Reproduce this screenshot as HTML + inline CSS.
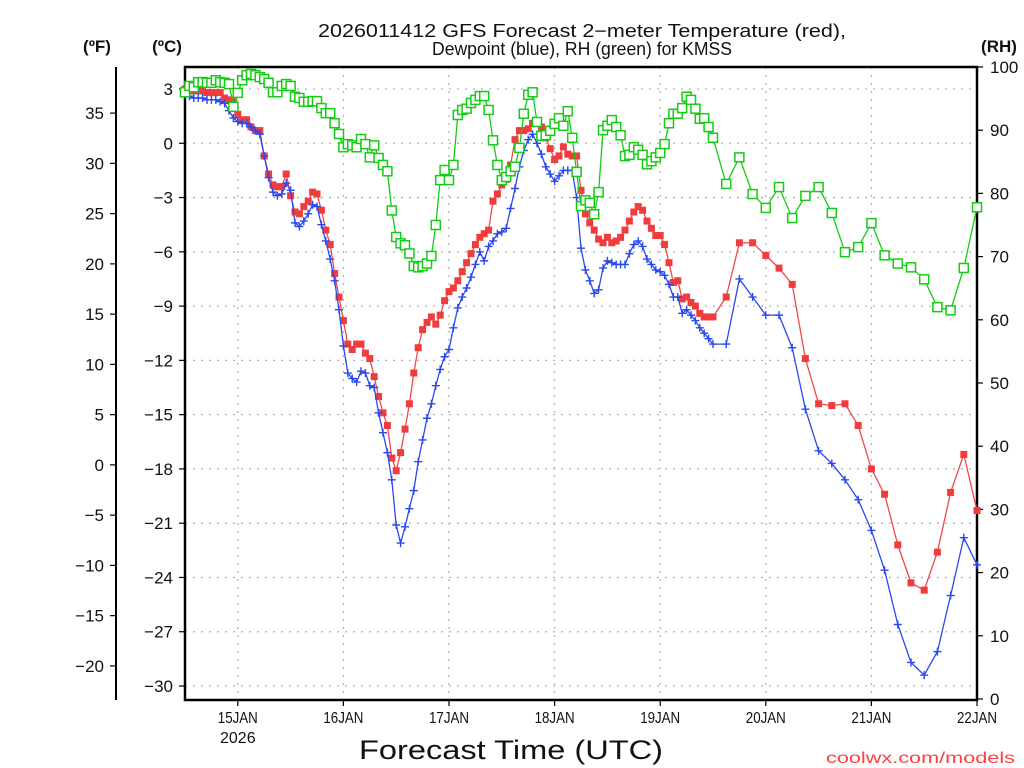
<!DOCTYPE html>
<html><head><meta charset="utf-8">
<style>
html,body{margin:0;padding:0;background:#fff;}
svg{display:block;}
text{font-family:"Liberation Sans",sans-serif;fill:#111;}
</style></head>
<body>
<svg id="chart" width="1024" height="768" viewBox="0 0 1024 768" xmlns="http://www.w3.org/2000/svg">
<rect x="0" y="0" width="1024" height="768" fill="#fff"/>
<text x="582" y="37" font-size="18" text-anchor="middle" textLength="528" lengthAdjust="spacingAndGlyphs">2026011412 GFS Forecast 2−meter Temperature (red),</text>
<text x="582" y="55" font-size="18" text-anchor="middle" textLength="300" lengthAdjust="spacingAndGlyphs">Dewpoint (blue), RH (green) for KMSS</text>
<text x="97" y="52" font-size="17" font-weight="bold" text-anchor="middle">(ºF)</text>
<text x="167" y="52" font-size="17" font-weight="bold" text-anchor="middle">(ºC)</text>
<text x="999" y="52" font-size="17" font-weight="bold" text-anchor="middle">(RH)</text>
<text x="511" y="759" font-size="27" text-anchor="middle" textLength="304" lengthAdjust="spacingAndGlyphs">Forecast Time (UTC)</text>
<text x="1015" y="763" font-size="16" text-anchor="end" fill="#ff4040" style="fill:#ff4040" textLength="189" lengthAdjust="spacingAndGlyphs">coolwx.com/models</text>
<g id="grid"></g>
<g id="axes"></g>
<g id="series"></g>
</svg>
<script>
const hours = [];
for (let h = 0; h <= 120; h++) hours.push(h);
for (let h = 123; h <= 180; h += 3) hours.push(h);

const tempC = [3.0,2.9,2.9,2.9,2.9,2.8,2.8,2.8,2.8,2.5,2.4,2.3,1.6,1.3,1.3,0.9,0.7,0.7,-0.7,-1.7,-2.3,-2.4,-2.4,-1.7,-2.9,-3.8,-3.9,-3.5,-3.2,-2.7,-2.8,-3.7,-4.8,-5.6,-7.2,-8.5,-9.8,-11.1,-11.4,-11.1,-11.1,-11.6,-11.9,-12.9,-14.0,-14.9,-15.6,-17.4,-18.1,-17.1,-15.8,-14.4,-12.7,-11.3,-10.3,-9.9,-9.6,-10.0,-9.5,-8.7,-8.2,-8.0,-7.6,-7.1,-6.6,-6.1,-5.6,-5.2,-5.0,-4.8,-3.2,-2.8,-2.3,-2.0,-1.2,0.2,0.7,0.7,0.8,1.1,1.2,0.9,0.3,-0.3,-0.9,-0.7,-0.2,-0.6,-0.7,-0.7,-2.6,-3.9,-4.4,-4.8,-5.3,-5.5,-5.2,-5.5,-5.4,-5.2,-4.8,-4.3,-3.8,-3.5,-3.7,-4.3,-4.7,-5.1,-5.1,-5.6,-6.6,-7.7,-7.6,-8.6,-8.5,-8.8,-9.0,-9.4,-9.6,-9.6,-9.6,
-8.5,-5.5,-5.5,-6.2,-6.9,-7.8,-11.9,-14.4,-14.5,-14.4,-15.6,-18.0,-19.4,-22.2,-24.3,-24.7,-22.6,-19.3,-17.2,-20.3];

const dewC = [2.7,2.6,2.5,2.5,2.5,2.4,2.4,2.4,2.3,2.2,1.8,1.4,1.2,1.1,1.1,0.9,0.7,0.5,-0.7,-1.9,-2.7,-2.9,-2.8,-2.2,-2.6,-4.4,-4.6,-4.3,-3.9,-3.4,-3.5,-4.5,-5.4,-6.4,-7.6,-9.2,-11.2,-12.7,-13.0,-13.2,-12.6,-12.7,-13.4,-13.5,-14.9,-16.0,-17.1,-18.6,-21.1,-22.1,-21.2,-20.2,-19.2,-17.6,-16.4,-15.2,-14.4,-13.4,-12.5,-11.8,-11.4,-10.2,-9.1,-8.5,-8.0,-7.4,-6.7,-6.0,-6.5,-5.7,-5.4,-5.0,-4.9,-4.7,-3.6,-2.5,-1.3,-0.4,0.2,0.5,0.0,-0.6,-1.3,-1.7,-2.1,-1.8,-1.5,-1.5,-1.5,-3.0,-5.8,-7.0,-7.6,-8.3,-8.1,-6.9,-6.5,-6.6,-6.7,-6.7,-6.7,-6.1,-5.6,-5.4,-5.7,-6.4,-6.7,-7.0,-7.1,-7.3,-7.8,-8.5,-8.5,-9.4,-9.2,-9.5,-9.8,-10.2,-10.5,-10.8,-11.1,
-11.1,-7.5,-8.5,-9.5,-9.5,-11.3,-14.7,-17.0,-17.7,-18.6,-19.7,-21.4,-23.6,-26.6,-28.7,-29.4,-28.1,-25.0,-21.8,-23.3];

const rhPct = [96.0,97.0,96.8,97.6,97.6,97.5,97.5,97.9,97.6,97.5,97.3,93.7,95.9,97.9,98.7,98.9,98.7,98.4,98.1,97.5,96.0,96.0,97.0,97.3,97.0,95.3,95.1,94.5,94.5,94.6,94.6,93.5,92.7,92.7,91.1,89.4,87.3,87.8,87.6,87.3,88.6,87.8,85.7,87.6,85.6,84.5,83.5,77.3,73.1,72.1,71.8,70.5,68.5,68.3,68.5,68.9,70.1,75.0,82.1,83.7,82.1,84.5,92.4,93.2,93.4,94.3,94.8,95.4,95.4,93.2,88.4,84.5,82.1,82.6,83.5,84.2,87.2,92.6,95.6,96.0,91.3,89.1,89.2,89.9,91.0,91.9,90.7,93.0,88.8,83.4,78.0,78.9,78.5,76.7,80.2,90.0,90.7,91.6,90.5,89.2,85.9,86.1,87.3,86.9,86.1,84.6,85.1,85.7,86.4,87.8,91.1,92.6,92.6,93.5,95.3,94.8,93.4,91.8,91.9,90.5,88.8,
81.5,85.7,79.9,77.7,81.0,76.1,79.6,81.0,76.9,70.7,71.5,75.3,70.2,68.9,68.3,66.4,62.0,61.5,68.2,77.8];

const dayTicks = [12,36,60,84,108,132,156,180];
const dayLabels = ["15JAN","16JAN","17JAN","18JAN","19JAN","20JAN","21JAN","22JAN"];
const cTicks = [3,0,-3,-6,-9,-12,-15,-18,-21,-24,-27,-30];
const fTicks = [35,30,25,20,15,10,5,0,-5,-10,-15,-20];
const rhTicks = [0,10,20,30,40,50,60,70,80,90,100];

const NS = "http://www.w3.org/2000/svg";
const PL = 185, PR = 977, PT = 67, PB = 700;
function xS(h){ return PL + h * (PR - PL) / 180; }
function yC(c){ return 686 - (c + 30) * (597 / 33); }
function yF(f){ return yC((f - 32) / 1.8); }
function yRH(r){ return 699 - r * 6.32; }
function mk(tag, attrs, parent){
  const e = document.createElementNS(NS, tag);
  for (const k in attrs) e.setAttribute(k, attrs[k]);
  parent.appendChild(e);
  return e;
}
const grid = document.getElementById('grid');
const axes = document.getElementById('axes');
const series = document.getElementById('series');

// gridlines
cTicks.forEach(c => {
  const l = mk('line', {x1:PL, x2:PR, y1:yC(c), y2:yC(c), stroke:'#b4b4b4', 'stroke-width':1.3, 'stroke-dasharray':'2,6'}, grid);
  
  
});
dayTicks.forEach(h => {
  const l = mk('line', {x1:xS(h), x2:xS(h), y1:PT, y2:PB, stroke:'#b4b4b4', 'stroke-width':1.3, 'stroke-dasharray':'2,6'}, grid);
  
  
});

// frame
const frame = mk('rect', {x:PL, y:PT, width:PR-PL, height:PB-PT, fill:'none', stroke:'#000', 'stroke-width':2.5}, axes);


const fAxis = mk('line', {x1:116, x2:116, y1:PT, y2:PB, stroke:'#000', 'stroke-width':2}, axes);



// celsius ticks
cTicks.forEach(c => {
  const y = yC(c);
  const t = mk('line', {x1:179, x2:PL, y1:y, y2:y, stroke:'#000', 'stroke-width':1.2}, axes);
  
  
  const tx = mk('text', {x:173, y:y+6, 'font-size':17, 'text-anchor':'end'}, axes);
  tx.textContent = (c < 0 ? '−' + Math.abs(c) : String(c));
  
  
});
// fahrenheit ticks
fTicks.forEach(f => {
  const y = yF(f);
  const t = mk('line', {x1:110, x2:116, y1:y, y2:y, stroke:'#000', 'stroke-width':1.2}, axes);
  
  
  const tx = mk('text', {x:104, y:y+6, 'font-size':17, 'text-anchor':'end'}, axes);
  tx.textContent = (f < 0 ? '−' + Math.abs(f) : String(f));
  
  
});
// RH ticks
rhTicks.forEach(r => {
  const y = yRH(r);
  const t = mk('line', {x1:PR, x2:PR+6, y1:y, y2:y, stroke:'#000', 'stroke-width':1.2}, axes);
  
  
  const tx = mk('text', {x:990, y:y+6, 'font-size':17, 'text-anchor':'start'}, axes);
  tx.textContent = String(r);
  
  
});
// x ticks
dayTicks.forEach((h, i) => {
  const x = xS(h);
  const t = mk('line', {x1:x, x2:x, y1:PB, y2:PB+6, stroke:'#000', 'stroke-width':1.2}, axes);
  
  
  const tx = mk('text', {x:x, y:723, 'font-size':16, 'text-anchor':'middle', textLength:40, lengthAdjust:'spacingAndGlyphs'}, axes);
  tx.textContent = dayLabels[i];
  
  
});
const yr = mk('text', {x:xS(12), y:743, 'font-size':16, 'text-anchor':'middle'}, axes);
yr.textContent = '2026';



function drawLine(vals, yf, color, name){
  const pts = hours.map((h, i) => xS(h).toFixed(1) + ',' + yf(vals[i]).toFixed(1)).join(' ');
  const pl = mk('polyline', {points:pts, fill:'none', stroke:color, 'stroke-width':1.3}, series);
  
  
}
// temperature
drawLine(tempC, yC, '#f04848', 'temperature-line');
hours.forEach((h, i) => {
  const x = xS(h), y = yC(tempC[i]);
  const m = mk('rect', {x:x-3.5, y:y-3.5, width:7, height:7, fill:'#f03c3c'}, series);
  
  
});
// dewpoint
drawLine(dewC, yC, '#2a48f0', 'dewpoint-line');
hours.forEach((h, i) => {
  const x = xS(h), y = yC(dewC[i]);
  const m = mk('path', {d:`M${x-4},${y}H${x+4}M${x},${y-4}V${y+4}`, stroke:'#2a48f0', 'stroke-width':1.4, fill:'none'}, series);
  
  
});
// RH
drawLine(rhPct, yRH, '#14cc14', 'rh-line');
hours.forEach((h, i) => {
  const x = xS(h), y = yRH(rhPct[i]);
  const m = mk('rect', {x:x-4.5, y:y-4.5, width:9, height:9, fill:'#fff', stroke:'#14cc14', 'stroke-width':1.5}, series);
  
  
});
</script>
</body></html>
